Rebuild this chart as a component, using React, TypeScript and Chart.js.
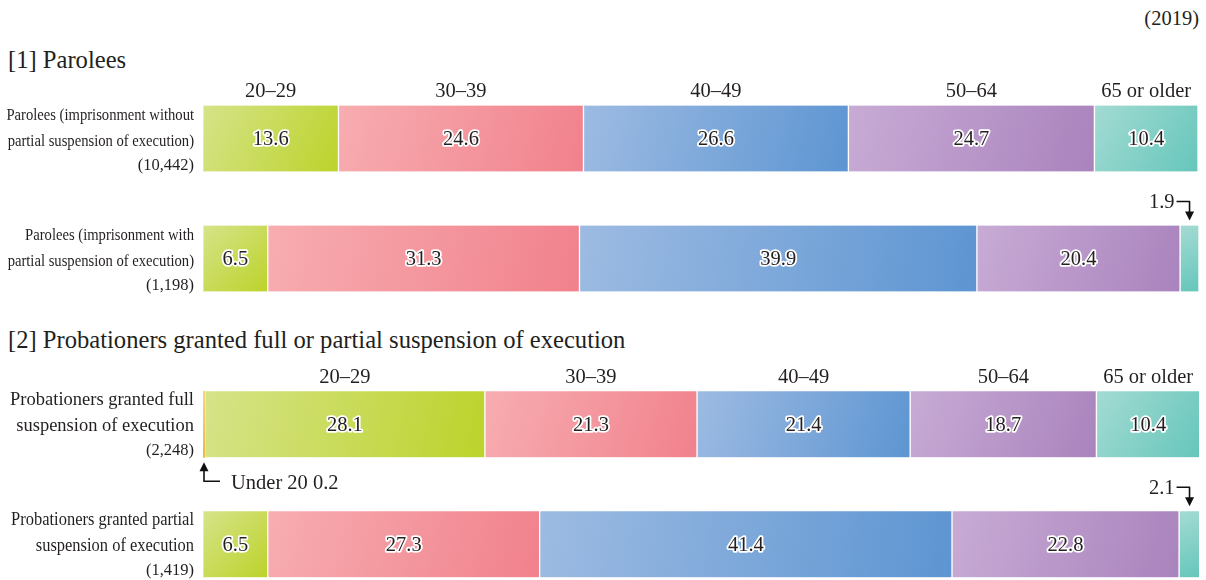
import React, { useEffect, useRef } from 'react';
import { Chart, registerables } from 'chart.js';

Chart.register(...registerables);

const FONT = '"Liberation Serif", "Times New Roman", serif';
const INK = '#231f20';

const AGE_GROUPS = ['Under 20', '20–29', '30–39', '40–49', '50–64', '65 or older'];

// light → dark end of each age group's fill
const SEGMENT_COLORS: [string, string][] = [
  ['#f8d47a', '#f0b83c'],
  ['#d7e389', '#bbd32a'],
  ['#f7adb1', '#f1818c'],
  ['#9dbbe2', '#5d95d2'],
  ['#c8abd5', '#a983bd'],
  ['#a3dbd3', '#66c6bb'],
];

// [1] Parolees
const paroleTitle = '[1] Parolees';
const paroleRows = [
  ['Parolees (imprisonment without', 'partial suspension of execution)'],
  ['Parolees (imprisonment with', 'partial suspension of execution)'],
];
const paroleCounts = ['(10,442)', '(1,198)'];
const paroleUnder20 = [0, 0];
const parole20s = [13.6, 6.5];
const parole30s = [24.6, 31.3];
const parole40s = [26.6, 39.9];
const parole50s = [24.7, 20.4];
const parole65plus = [10.4, 1.9];

// [2] Probationers granted full or partial suspension of execution
const probationTitle = '[2] Probationers granted full or partial suspension of execution';
const probationRows = [
  ['Probationers granted full', 'suspension of execution'],
  ['Probationers granted partial', 'suspension of execution'],
];
const probationCounts = ['(2,248)', '(1,419)'];
const probationUnder20 = [0.2, 0];
const probation20s = [28.1, 6.5];
const probation30s = [21.3, 27.3];
const probation40s = [21.4, 41.4];
const probation50s = [18.7, 22.8];
const probation65plus = [10.4, 2.1];

const YEAR_NOTE = '(2019)';

const BAR_THICKNESS = 66;
const LABEL_SIZE = 20.5;

const gradientFill = (k: number) => (c: any) => {
  const chart = c.chart;
  const [c0, c1] = SEGMENT_COLORS[k];
  if (!chart.chartArea || c.type !== 'data') return c1;
  const ds = chart.data.datasets;
  const i = c.dataIndex;
  let start = 0;
  for (let j = 0; j < k; j++) start += ds[j].data[i];
  const end = start + ds[k].data[i];
  const xs = chart.scales.x;
  const ys = chart.scales.y;
  const x0 = xs.getPixelForValue(start);
  const x1 = xs.getPixelForValue(end);
  const yc = ys.getPixelForValue(i);
  const g = chart.ctx.createLinearGradient(x0, yc - BAR_THICKNESS / 2, x1, yc + BAR_THICKNESS / 2);
  g.addColorStop(0, c0);
  g.addColorStop(1, c1);
  return g;
};

function outlinedText(ctx: CanvasRenderingContext2D, text: string, x: number, y: number) {
  ctx.lineJoin = 'round';
  ctx.lineWidth = 3.5;
  ctx.strokeStyle = '#ffffff';
  ctx.strokeText(text, x, y);
  ctx.fillStyle = INK;
  ctx.fillText(text, x, y);
}

function arrowHead(ctx: CanvasRenderingContext2D, x: number, tipY: number, dir: 1 | -1) {
  // dir 1 = pointing down, -1 = pointing up
  ctx.beginPath();
  ctx.moveTo(x, tipY);
  ctx.lineTo(x - 4.5, tipY - dir * 9);
  ctx.lineTo(x + 4.5, tipY - dir * 9);
  ctx.closePath();
  ctx.fill();
}

// Row captions, age-group headers, in-bar values and call-outs for thin segments
const annotatePlugin = {
  id: 'annotate',
  afterDatasetsDraw(chart: any, _args: any, opts: any) {
    const ctx: CanvasRenderingContext2D = chart.ctx;
    const ys = chart.scales.y;
    const datasets = chart.data.datasets;
    ctx.save();

    // row captions on the left
    const rows: string[][] = opts.rows;
    const counts: string[] = opts.counts;
    const right = chart.chartArea.left - 9;
    rows.forEach((lines, i) => {
      const yc = ys.getPixelForValue(i);
      ctx.fillStyle = INK;
      ctx.textAlign = 'right';
      ctx.textBaseline = 'alphabetic';
      ctx.font = `${opts.rowSize}px ${FONT}`;
      lines.forEach((line, l) => {
        ctx.save();
        ctx.translate(right, yc - 19 + l * 26);
        ctx.scale(opts.squeeze[i], 1);
        ctx.fillText(line, 0, 0);
        ctx.restore();
      });
      ctx.font = `16.5px ${FONT}`;
      ctx.fillText(counts[i], right, yc + 31);
    });

    // age-group headers above the first bar
    ctx.font = `${LABEL_SIZE}px ${FONT}`;
    ctx.textAlign = 'center';
    ctx.fillStyle = INK;
    for (let k = 1; k < datasets.length; k++) {
      const el = chart.getDatasetMeta(k).data[0];
      const p = el.getProps(['x', 'base', 'y', 'height'], true);
      const top = p.y - p.height / 2;
      ctx.fillText(datasets[k].label, (p.x + p.base) / 2, top - 15.5 + LABEL_SIZE * 0.33);
    }

    // values
    for (let k = 0; k < datasets.length; k++) {
      const meta = chart.getDatasetMeta(k);
      meta.data.forEach((el: any, i: number) => {
        const v = datasets[k].data[i];
        if (!v) return;
        const p = el.getProps(['x', 'base', 'y', 'height'], true);
        const cx = (p.x + p.base) / 2;
        const top = p.y - p.height / 2;
        const bottom = p.y + p.height / 2;
        const txt = v.toFixed(1);
        ctx.font = `${LABEL_SIZE}px ${FONT}`;
        if (v >= 3) {
          ctx.textAlign = 'center';
          outlinedText(ctx, txt, cx, p.y + LABEL_SIZE * 0.33);
          return;
        }
        ctx.fillStyle = '#111';
        ctx.strokeStyle = '#111';
        ctx.lineWidth = 1.6;
        if (k === 0) {
          // call-out below the bar, arrow pointing up
          const yLine = bottom + 24;
          ctx.beginPath();
          ctx.moveTo(cx, bottom + 12);
          ctx.lineTo(cx, yLine);
          ctx.lineTo(cx + 16, yLine);
          ctx.stroke();
          arrowHead(ctx, cx, bottom + 5, -1);
          ctx.fillStyle = INK;
          ctx.textAlign = 'left';
          ctx.fillText(`${datasets[k].label} ${txt}`, cx + 27, bottom + 31.5);
        } else {
          // call-out above the bar, arrow pointing down
          const yLine = top - 24;
          ctx.beginPath();
          ctx.moveTo(cx - 13, yLine);
          ctx.lineTo(cx, yLine);
          ctx.lineTo(cx, top - 12);
          ctx.stroke();
          arrowHead(ctx, cx, top - 5, 1);
          ctx.fillStyle = INK;
          ctx.textAlign = 'right';
          ctx.fillText(txt, cx - 15, top - 17.7);
        }
      });
    }
    ctx.restore();
  },
};

type SectionProps = {
  top: number;
  height: number;
  padTop: number;
  rows: string[][];
  counts: string[];
  series: number[][];
  rowSize: number;
  squeeze: number[];
};

function StackedSection({ top, height, padTop, rows, counts, series, rowSize, squeeze }: SectionProps) {
  const ref = useRef<HTMLCanvasElement>(null);

  useEffect(() => {
    if (!ref.current) return;
    const chart = new Chart(ref.current, {
      type: 'bar',
      data: {
        labels: rows.map((r) => r.join(' ')),
        datasets: AGE_GROUPS.map((label, k) => ({
          label,
          data: series[k],
          backgroundColor: gradientFill(k),
          borderColor: '#ffffff',
          borderWidth: k === 0 ? 0 : { left: 1, right: 1, top: 0, bottom: 0 },
          borderSkipped: false,
          barThickness: BAR_THICKNESS,
          clip: 0,
        })),
      },
      options: {
        indexAxis: 'y',
        responsive: false,
        maintainAspectRatio: false,
        animation: false,
        events: [],
        layout: { padding: { left: 203, right: 7, top: padTop, bottom: height - padTop - 240 } },
        scales: {
          x: { stacked: true, min: 0, max: 100, display: false },
          y: { stacked: true, display: false },
        },
        plugins: {
          legend: { display: false },
          tooltip: { enabled: false },
          annotate: { rows, counts, rowSize, squeeze },
        } as any,
      },
      plugins: [annotatePlugin],
    } as any);
    return () => chart.destroy();
  }, []);

  return (
    <canvas
      ref={ref}
      width={1206}
      height={height}
      style={{ position: 'absolute', left: 0, top, width: 1206, height }}
    />
  );
}

export default function App() {
  const title: React.CSSProperties = {
    position: 'absolute',
    left: 8,
    fontSize: 24.6,
    lineHeight: 1,
    whiteSpace: 'nowrap',
  };
  return (
    <div
      style={{
        position: 'absolute',
        left: 0,
        top: 0,
        width: 1206,
        height: 580,
        overflow: 'hidden',
        background: '#ffffff',
        fontFamily: FONT,
        color: INK,
      }}
    >
      <div style={{ position: 'absolute', right: 7, top: 7.5, fontSize: 20.5, lineHeight: 1 }}>{YEAR_NOTE}</div>
      <div style={{ ...title, top: 48 }}>{paroleTitle}</div>
      <div style={{ ...title, top: 328 }}>{probationTitle}</div>
      <StackedSection
        top={0}
        height={330}
        padTop={78.5}
        rows={paroleRows}
        counts={paroleCounts}
        series={[paroleUnder20, parole20s, parole30s, parole40s, parole50s, parole65plus]}
        rowSize={17}
        squeeze={[0.86, 0.86]}
      />
      <StackedSection
        top={300}
        height={310}
        padTop={64.3}
        rows={probationRows}
        counts={probationCounts}
        series={[probationUnder20, probation20s, probation30s, probation40s, probation50s, probation65plus]}
        rowSize={18.5}
        squeeze={[1, 0.89]}
      />
    </div>
  );
}
